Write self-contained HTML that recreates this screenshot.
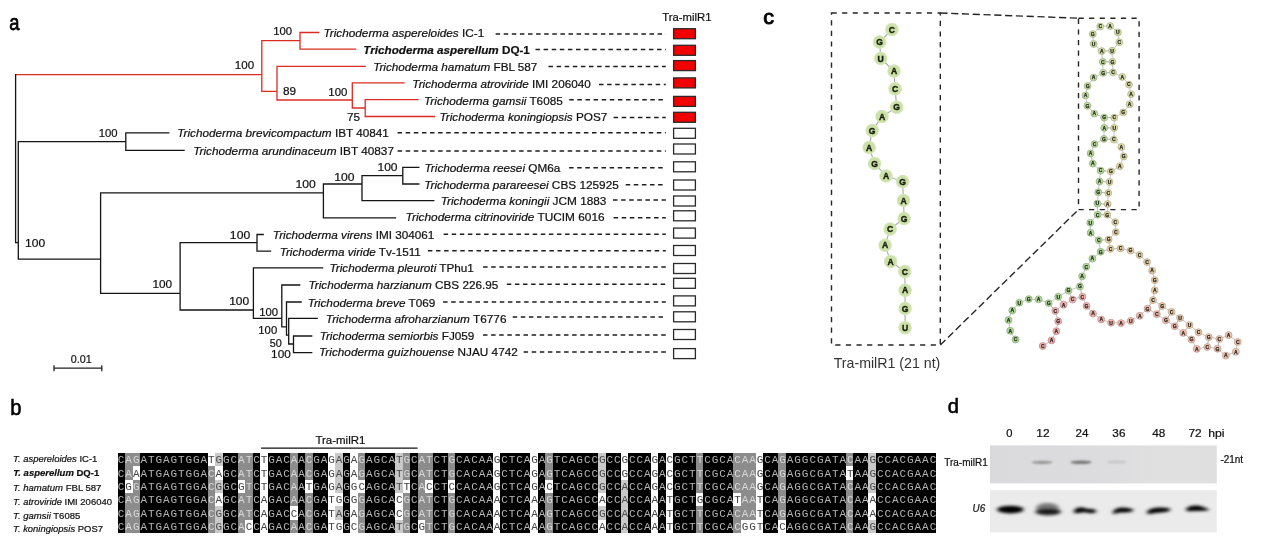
<!DOCTYPE html>
<html><head><meta charset="utf-8"><title>Tra-milR1 figure</title>
<style>html,body{margin:0;padding:0;background:#fff;}body{width:1262px;height:543px;overflow:hidden;}svg{display:block;}</style>
</head><body><svg width="1262" height="543" viewBox="0 0 1262 543" font-family="Liberation Sans, Arial, sans-serif"><text x="9.13" y="29.50" font-size="22" fill="#000" stroke="#000" stroke-width="0.75" textLength="10.20" lengthAdjust="spacingAndGlyphs">a</text><text x="10.28" y="414.60" font-size="22" fill="#000" stroke="#000" stroke-width="0.6" textLength="11.22" lengthAdjust="spacingAndGlyphs">b</text><text x="763.28" y="24.40" font-size="20" fill="#000" stroke="#000" stroke-width="0.9" textLength="10.77" lengthAdjust="spacingAndGlyphs">c</text><text x="947.67" y="412.80" font-size="21" fill="#000" stroke="#000" stroke-width="0.6" textLength="11.17" lengthAdjust="spacingAndGlyphs">d</text><path d="M15.6 74.6L261.8 74.6M261.8 40.6L261.8 91.4M261.8 40.6L300.0 40.6M300.0 32.5L300.0 49.2M300.0 32.5L318.7 32.5M300.0 49.2L355.6 49.2M261.8 91.4L277.0 91.4M277.0 66.3L277.0 100.0M277.0 66.3L365.2 66.3M277.0 100.0L352.3 100.0M352.3 82.9L352.3 108.0M352.3 82.9L404.0 82.9M352.3 108.0L365.2 108.0M365.2 99.6L365.2 116.5M365.2 99.6L417.9 99.6M365.2 116.5L434.6 116.5" stroke="#dc2c22" stroke-width="1.3" fill="none" stroke-linecap="square"/><path d="M15.6 74.6L15.6 242.6M15.6 242.6L18.3 242.6M18.3 141.7L18.3 259.2M18.3 141.7L125.8 141.7M125.8 132.8L125.8 150.3M125.8 132.8L168.8 132.8M125.8 150.3L184.1 150.3M18.3 259.2L100.6 259.2M100.6 192.8L100.6 293.3M100.6 192.8L323.4 192.8M323.4 184.0L323.4 217.8M323.4 217.8L395.5 217.8M323.4 184.0L362.0 184.0M362.0 175.6L362.0 200.6M362.0 200.6L433.8 200.6M362.0 175.6L402.8 175.6M402.8 167.3L402.8 184.0M402.8 167.3L418.8 167.3M402.8 184.0L418.8 184.0M100.6 293.3L180.1 293.3M180.1 242.6L180.1 310.0M180.1 242.6L257.0 242.6M257.0 234.5L257.0 251.2M257.0 234.5L263.2 234.5M257.0 251.2L270.5 251.2M180.1 310.0L253.4 310.0M253.4 267.9L253.4 318.4M253.4 267.9L322.6 267.9M253.4 318.4L281.8 318.4M281.8 285.0L281.8 326.8M281.8 285.0L299.7 285.0M281.8 326.8L286.5 326.8M286.5 302.0L286.5 335.2M286.5 302.0L301.1 302.0M286.5 335.2L288.7 335.2M288.7 318.4L288.7 344.0M288.7 318.4L317.2 318.4M288.7 344.0L293.5 344.0M293.5 336.0L293.5 352.6M293.5 336.0L311.7 336.0M293.5 352.6L311.7 352.6" stroke="#151515" stroke-width="1.3" fill="none" stroke-linecap="square"/><text x="323.45" y="36.80" font-size="11.75" fill="#111" stroke="#111" stroke-width="0.22" textLength="160.86" lengthAdjust="spacingAndGlyphs"><tspan font-style="italic">Trichoderma aspereloides</tspan> IC-1</text><line x1="495.6" y1="34.0" x2="665.8" y2="34.0" stroke="#1e1e1e" stroke-width="1.5" stroke-dasharray="4.5 3.6"/><rect x="673.6" y="28.7" width="21.8" height="10.0" fill="#f20000" stroke="#2a2a2a" stroke-width="1.3"/><text x="363.30" y="53.70" font-size="11.75" font-weight="bold" fill="#111" stroke="#111" stroke-width="0.22" textLength="166.57" lengthAdjust="spacingAndGlyphs"><tspan font-style="italic">Trichoderma asperellum</tspan> DQ-1</text><line x1="535.5" y1="49.5" x2="665.8" y2="49.5" stroke="#1e1e1e" stroke-width="1.5" stroke-dasharray="4.5 3.6"/><rect x="673.6" y="45.3" width="21.8" height="10.0" fill="#f20000" stroke="#2a2a2a" stroke-width="1.3"/><text x="373.15" y="71.30" font-size="11.75" fill="#111" stroke="#111" stroke-width="0.22" textLength="164.23" lengthAdjust="spacingAndGlyphs"><tspan font-style="italic">Trichoderma hamatum</tspan> FBL 587</text><line x1="548.5" y1="66.6" x2="665.8" y2="66.6" stroke="#1e1e1e" stroke-width="1.5" stroke-dasharray="4.5 3.6"/><rect x="673.6" y="60.6" width="21.8" height="10.0" fill="#f20000" stroke="#2a2a2a" stroke-width="1.3"/><text x="412.35" y="88.40" font-size="11.75" fill="#111" stroke="#111" stroke-width="0.22" textLength="178.43" lengthAdjust="spacingAndGlyphs"><tspan font-style="italic">Trichoderma atroviride</tspan> IMI 206040</text><line x1="599.0" y1="84.6" x2="665.8" y2="84.6" stroke="#1e1e1e" stroke-width="1.5" stroke-dasharray="4.5 3.6"/><rect x="673.6" y="77.9" width="21.8" height="10.0" fill="#f20000" stroke="#2a2a2a" stroke-width="1.3"/><text x="424.05" y="104.70" font-size="11.75" fill="#111" stroke="#111" stroke-width="0.22" textLength="138.72" lengthAdjust="spacingAndGlyphs"><tspan font-style="italic">Trichoderma gamsii</tspan> T6085</text><line x1="569.3" y1="99.7" x2="665.8" y2="99.7" stroke="#1e1e1e" stroke-width="1.5" stroke-dasharray="4.5 3.6"/><rect x="673.6" y="96.4" width="21.8" height="10.0" fill="#f20000" stroke="#2a2a2a" stroke-width="1.3"/><text x="439.45" y="120.90" font-size="11.75" fill="#111" stroke="#111" stroke-width="0.22" textLength="167.99" lengthAdjust="spacingAndGlyphs"><tspan font-style="italic">Trichoderma koningiopsis</tspan> POS7</text><line x1="613.6" y1="117.4" x2="665.8" y2="117.4" stroke="#1e1e1e" stroke-width="1.5" stroke-dasharray="4.5 3.6"/><rect x="673.6" y="112.3" width="21.8" height="10.0" fill="#f20000" stroke="#2a2a2a" stroke-width="1.3"/><text x="177.25" y="136.90" font-size="11.75" fill="#111" stroke="#111" stroke-width="0.22" textLength="211.63" lengthAdjust="spacingAndGlyphs"><tspan font-style="italic">Trichoderma brevicompactum</tspan> IBT 40841</text><line x1="397.6" y1="132.7" x2="665.8" y2="132.7" stroke="#1e1e1e" stroke-width="1.5" stroke-dasharray="4.5 3.6"/><rect x="673.6" y="128.3" width="21.8" height="10.0" fill="#ffffff" stroke="#2a2a2a" stroke-width="1.3"/><text x="193.15" y="154.60" font-size="11.75" fill="#111" stroke="#111" stroke-width="0.22" textLength="200.85" lengthAdjust="spacingAndGlyphs"><tspan font-style="italic">Trichoderma arundinaceum</tspan> IBT 40837</text><line x1="397.6" y1="150.9" x2="665.8" y2="150.9" stroke="#1e1e1e" stroke-width="1.5" stroke-dasharray="4.5 3.6"/><rect x="673.6" y="144.0" width="21.8" height="10.0" fill="#ffffff" stroke="#2a2a2a" stroke-width="1.3"/><text x="424.55" y="172.10" font-size="11.75" fill="#111" stroke="#111" stroke-width="0.22" textLength="135.78" lengthAdjust="spacingAndGlyphs"><tspan font-style="italic">Trichoderma reesei</tspan> QM6a</text><line x1="569.1" y1="167.8" x2="665.8" y2="167.8" stroke="#1e1e1e" stroke-width="1.5" stroke-dasharray="4.5 3.6"/><rect x="673.6" y="161.8" width="21.8" height="10.0" fill="#ffffff" stroke="#2a2a2a" stroke-width="1.3"/><text x="424.15" y="189.00" font-size="11.75" fill="#111" stroke="#111" stroke-width="0.22" textLength="194.69" lengthAdjust="spacingAndGlyphs"><tspan font-style="italic">Trichoderma parareesei</tspan> CBS 125925</text><line x1="625.7" y1="184.8" x2="665.8" y2="184.8" stroke="#1e1e1e" stroke-width="1.5" stroke-dasharray="4.5 3.6"/><rect x="673.6" y="180.0" width="21.8" height="10.0" fill="#ffffff" stroke="#2a2a2a" stroke-width="1.3"/><text x="440.65" y="204.60" font-size="11.75" fill="#111" stroke="#111" stroke-width="0.22" textLength="165.79" lengthAdjust="spacingAndGlyphs"><tspan font-style="italic">Trichoderma koningii</tspan> JCM 1883</text><line x1="613.0" y1="200.0" x2="665.8" y2="200.0" stroke="#1e1e1e" stroke-width="1.5" stroke-dasharray="4.5 3.6"/><rect x="673.6" y="196.0" width="21.8" height="10.0" fill="#ffffff" stroke="#2a2a2a" stroke-width="1.3"/><text x="405.64" y="221.30" font-size="11.75" fill="#111" stroke="#111" stroke-width="0.22" textLength="198.95" lengthAdjust="spacingAndGlyphs"><tspan font-style="italic">Trichoderma citrinoviride</tspan> TUCIM 6016</text><line x1="613.6" y1="217.8" x2="665.8" y2="217.8" stroke="#1e1e1e" stroke-width="1.5" stroke-dasharray="4.5 3.6"/><rect x="673.6" y="210.8" width="21.8" height="10.0" fill="#ffffff" stroke="#2a2a2a" stroke-width="1.3"/><text x="272.85" y="238.80" font-size="11.75" fill="#111" stroke="#111" stroke-width="0.22" textLength="161.50" lengthAdjust="spacingAndGlyphs"><tspan font-style="italic">Trichoderma virens</tspan> IMI 304061</text><line x1="443.6" y1="234.3" x2="665.8" y2="234.3" stroke="#1e1e1e" stroke-width="1.5" stroke-dasharray="4.5 3.6"/><rect x="673.6" y="228.1" width="21.8" height="10.0" fill="#ffffff" stroke="#2a2a2a" stroke-width="1.3"/><text x="279.65" y="255.50" font-size="11.75" fill="#111" stroke="#111" stroke-width="0.22" textLength="141.26" lengthAdjust="spacingAndGlyphs"><tspan font-style="italic">Trichoderma viride</tspan> Tv-1511</text><line x1="427.9" y1="250.8" x2="665.8" y2="250.8" stroke="#1e1e1e" stroke-width="1.5" stroke-dasharray="4.5 3.6"/><rect x="673.6" y="245.5" width="21.8" height="10.0" fill="#ffffff" stroke="#2a2a2a" stroke-width="1.3"/><text x="329.45" y="272.40" font-size="11.75" fill="#111" stroke="#111" stroke-width="0.22" textLength="144.46" lengthAdjust="spacingAndGlyphs"><tspan font-style="italic">Trichoderma pleuroti</tspan> TPhu1</text><line x1="483.1" y1="266.9" x2="665.8" y2="266.9" stroke="#1e1e1e" stroke-width="1.5" stroke-dasharray="4.5 3.6"/><rect x="673.6" y="263.5" width="21.8" height="10.0" fill="#ffffff" stroke="#2a2a2a" stroke-width="1.3"/><text x="308.45" y="288.90" font-size="11.75" fill="#111" stroke="#111" stroke-width="0.22" textLength="189.94" lengthAdjust="spacingAndGlyphs"><tspan font-style="italic">Trichoderma harzianum</tspan> CBS 226.95</text><line x1="506.8" y1="284.3" x2="665.8" y2="284.3" stroke="#1e1e1e" stroke-width="1.5" stroke-dasharray="4.5 3.6"/><rect x="673.6" y="278.3" width="21.8" height="10.0" fill="#ffffff" stroke="#2a2a2a" stroke-width="1.3"/><text x="307.65" y="306.50" font-size="11.75" fill="#111" stroke="#111" stroke-width="0.22" textLength="127.75" lengthAdjust="spacingAndGlyphs"><tspan font-style="italic">Trichoderma breve</tspan> T069</text><line x1="443.1" y1="302.0" x2="665.8" y2="302.0" stroke="#1e1e1e" stroke-width="1.5" stroke-dasharray="4.5 3.6"/><rect x="673.6" y="295.9" width="21.8" height="10.0" fill="#ffffff" stroke="#2a2a2a" stroke-width="1.3"/><text x="325.85" y="322.50" font-size="11.75" fill="#111" stroke="#111" stroke-width="0.22" textLength="180.63" lengthAdjust="spacingAndGlyphs"><tspan font-style="italic">Trichoderma afroharzianum</tspan> T6776</text><line x1="512.7" y1="317.1" x2="665.8" y2="317.1" stroke="#1e1e1e" stroke-width="1.5" stroke-dasharray="4.5 3.6"/><rect x="673.6" y="311.8" width="21.8" height="10.0" fill="#ffffff" stroke="#2a2a2a" stroke-width="1.3"/><text x="319.65" y="339.90" font-size="11.75" fill="#111" stroke="#111" stroke-width="0.22" textLength="154.75" lengthAdjust="spacingAndGlyphs"><tspan font-style="italic">Trichoderma semiorbis</tspan> FJ059</text><line x1="483.0" y1="335.1" x2="665.8" y2="335.1" stroke="#1e1e1e" stroke-width="1.5" stroke-dasharray="4.5 3.6"/><rect x="673.6" y="329.5" width="21.8" height="10.0" fill="#ffffff" stroke="#2a2a2a" stroke-width="1.3"/><text x="319.05" y="356.30" font-size="11.75" fill="#111" stroke="#111" stroke-width="0.22" textLength="198.75" lengthAdjust="spacingAndGlyphs"><tspan font-style="italic">Trichoderma guizhouense</tspan> NJAU 4742</text><line x1="523.6" y1="351.9" x2="665.8" y2="351.9" stroke="#1e1e1e" stroke-width="1.5" stroke-dasharray="4.5 3.6"/><rect x="673.6" y="348.6" width="21.8" height="10.0" fill="#ffffff" stroke="#2a2a2a" stroke-width="1.3"/><text x="273.23" y="34.90" font-size="11.8" fill="#111" stroke="#111" stroke-width="0.22" textLength="18.84" lengthAdjust="spacingAndGlyphs">100</text><text x="234.81" y="68.70" font-size="11.8" fill="#111" stroke="#111" stroke-width="0.22" textLength="19.37" lengthAdjust="spacingAndGlyphs">100</text><text x="282.95" y="94.70" font-size="11.8" fill="#111" stroke="#111" stroke-width="0.22" textLength="13.07" lengthAdjust="spacingAndGlyphs">89</text><text x="328.32" y="95.50" font-size="11.8" fill="#111" stroke="#111" stroke-width="0.22" textLength="19.05" lengthAdjust="spacingAndGlyphs">100</text><text x="346.95" y="121.10" font-size="11.8" fill="#111" stroke="#111" stroke-width="0.22" textLength="13.07" lengthAdjust="spacingAndGlyphs">75</text><text x="98.73" y="136.70" font-size="11.8" fill="#111" stroke="#111" stroke-width="0.22" textLength="18.84" lengthAdjust="spacingAndGlyphs">100</text><text x="295.48" y="188.00" font-size="11.8" fill="#111" stroke="#111" stroke-width="0.22" textLength="20.33" lengthAdjust="spacingAndGlyphs">100</text><text x="334.18" y="181.00" font-size="11.8" fill="#111" stroke="#111" stroke-width="0.22" textLength="20.22" lengthAdjust="spacingAndGlyphs">100</text><text x="377.48" y="170.60" font-size="11.8" fill="#111" stroke="#111" stroke-width="0.22" textLength="20.11" lengthAdjust="spacingAndGlyphs">100</text><text x="25.08" y="246.80" font-size="11.8" fill="#111" stroke="#111" stroke-width="0.22" textLength="20.11" lengthAdjust="spacingAndGlyphs">100</text><text x="152.50" y="288.00" font-size="11.8" fill="#111" stroke="#111" stroke-width="0.22" textLength="19.69" lengthAdjust="spacingAndGlyphs">100</text><text x="229.88" y="238.80" font-size="11.8" fill="#111" stroke="#111" stroke-width="0.22" textLength="20.33" lengthAdjust="spacingAndGlyphs">100</text><text x="229.19" y="305.20" font-size="11.8" fill="#111" stroke="#111" stroke-width="0.22" textLength="20.01" lengthAdjust="spacingAndGlyphs">100</text><text x="259.13" y="316.10" font-size="11.8" fill="#111" stroke="#111" stroke-width="0.22" textLength="18.84" lengthAdjust="spacingAndGlyphs">100</text><text x="258.33" y="334.30" font-size="11.8" fill="#111" stroke="#111" stroke-width="0.22" textLength="18.84" lengthAdjust="spacingAndGlyphs">100</text><text x="269.82" y="347.10" font-size="11.8" fill="#111" stroke="#111" stroke-width="0.22" textLength="12.08" lengthAdjust="spacingAndGlyphs">50</text><text x="271.10" y="358.40" font-size="11.8" fill="#111" stroke="#111" stroke-width="0.22" textLength="19.69" lengthAdjust="spacingAndGlyphs">100</text><text x="662.25" y="20.90" font-size="11.4" fill="#111" stroke="#111" stroke-width="0.22" textLength="49.23" lengthAdjust="spacingAndGlyphs">Tra-milR1</text><path d="M53.4 368.1H102.4M54.0 365.2V371.2M101.8 365.2V371.2" stroke="#222" stroke-width="1.3" fill="none"/><text x="70.72" y="363.20" font-size="11.6" fill="#111" stroke="#111" stroke-width="0.22" textLength="20.94" lengthAdjust="spacingAndGlyphs">0.01</text><g shape-rendering="crispEdges"><rect x="117.50" y="453.00" width="818.40" height="80.00" fill="#000"/><rect x="125.01" y="453.00" width="7.51" height="26.67" fill="#8c8c8c"/><rect x="125.01" y="479.67" width="7.51" height="13.33" fill="#ffffff"/><rect x="125.01" y="493.00" width="7.51" height="40.00" fill="#8c8c8c"/><rect x="132.52" y="453.00" width="7.51" height="13.33" fill="#8c8c8c"/><rect x="132.52" y="466.33" width="7.51" height="13.33" fill="#ffffff"/><rect x="132.52" y="479.67" width="7.51" height="53.33" fill="#8c8c8c"/><rect x="207.60" y="453.00" width="7.51" height="13.33" fill="#ffffff"/><rect x="207.60" y="466.33" width="7.51" height="66.67" fill="#8c8c8c"/><rect x="215.11" y="453.00" width="7.51" height="13.33" fill="#c9c9c9"/><rect x="215.11" y="466.33" width="7.51" height="13.33" fill="#ffffff"/><rect x="215.11" y="479.67" width="7.51" height="13.33" fill="#c9c9c9"/><rect x="215.11" y="493.00" width="7.51" height="13.33" fill="#ffffff"/><rect x="215.11" y="506.33" width="7.51" height="26.67" fill="#c9c9c9"/><rect x="237.63" y="453.00" width="7.51" height="26.67" fill="#8c8c8c"/><rect x="237.63" y="479.67" width="7.51" height="13.33" fill="#ffffff"/><rect x="237.63" y="493.00" width="7.51" height="40.00" fill="#8c8c8c"/><rect x="245.14" y="453.00" width="7.51" height="66.67" fill="#8c8c8c"/><rect x="245.14" y="519.67" width="7.51" height="13.33" fill="#ffffff"/><rect x="260.16" y="453.00" width="7.51" height="80.00" fill="#ffffff"/><rect x="290.19" y="453.00" width="7.51" height="53.33" fill="#8c8c8c"/><rect x="290.19" y="506.33" width="7.51" height="13.33" fill="#ffffff"/><rect x="290.19" y="519.67" width="7.51" height="13.33" fill="#8c8c8c"/><rect x="305.21" y="453.00" width="7.51" height="26.67" fill="#8c8c8c"/><rect x="305.21" y="479.67" width="7.51" height="13.33" fill="#ffffff"/><rect x="305.21" y="493.00" width="7.51" height="40.00" fill="#8c8c8c"/><rect x="327.73" y="453.00" width="7.51" height="80.00" fill="#ffffff"/><rect x="335.24" y="453.00" width="7.51" height="40.00" fill="#c9c9c9"/><rect x="335.24" y="493.00" width="7.51" height="13.33" fill="#ffffff"/><rect x="335.24" y="506.33" width="7.51" height="13.33" fill="#c9c9c9"/><rect x="335.24" y="519.67" width="7.51" height="13.33" fill="#ffffff"/><rect x="350.26" y="453.00" width="7.51" height="80.00" fill="#ffffff"/><rect x="357.76" y="453.00" width="7.51" height="26.67" fill="#8c8c8c"/><rect x="357.76" y="479.67" width="7.51" height="13.33" fill="#ffffff"/><rect x="357.76" y="493.00" width="7.51" height="40.00" fill="#8c8c8c"/><rect x="395.31" y="453.00" width="7.51" height="40.00" fill="#c9c9c9"/><rect x="395.31" y="493.00" width="7.51" height="26.67" fill="#ffffff"/><rect x="395.31" y="519.67" width="7.51" height="13.33" fill="#c9c9c9"/><rect x="402.81" y="453.00" width="7.51" height="26.67" fill="#8c8c8c"/><rect x="402.81" y="479.67" width="7.51" height="13.33" fill="#ffffff"/><rect x="402.81" y="493.00" width="7.51" height="40.00" fill="#8c8c8c"/><rect x="417.83" y="453.00" width="7.51" height="66.67" fill="#8c8c8c"/><rect x="417.83" y="519.67" width="7.51" height="13.33" fill="#ffffff"/><rect x="425.34" y="453.00" width="7.51" height="26.67" fill="#8c8c8c"/><rect x="425.34" y="479.67" width="7.51" height="13.33" fill="#ffffff"/><rect x="425.34" y="493.00" width="7.51" height="40.00" fill="#8c8c8c"/><rect x="447.86" y="453.00" width="7.51" height="26.67" fill="#8c8c8c"/><rect x="447.86" y="479.67" width="7.51" height="13.33" fill="#ffffff"/><rect x="447.86" y="493.00" width="7.51" height="40.00" fill="#8c8c8c"/><rect x="492.91" y="453.00" width="7.51" height="80.00" fill="#ffffff"/><rect x="530.45" y="453.00" width="7.51" height="80.00" fill="#ffffff"/><rect x="545.47" y="453.00" width="7.51" height="26.67" fill="#8c8c8c"/><rect x="545.47" y="479.67" width="7.51" height="13.33" fill="#ffffff"/><rect x="545.47" y="493.00" width="7.51" height="40.00" fill="#8c8c8c"/><rect x="598.03" y="453.00" width="7.51" height="40.00" fill="#c9c9c9"/><rect x="598.03" y="493.00" width="7.51" height="13.33" fill="#ffffff"/><rect x="598.03" y="506.33" width="7.51" height="13.33" fill="#c9c9c9"/><rect x="598.03" y="519.67" width="7.51" height="13.33" fill="#ffffff"/><rect x="620.55" y="453.00" width="7.51" height="26.67" fill="#ffffff"/><rect x="620.55" y="479.67" width="7.51" height="53.33" fill="#c9c9c9"/><rect x="650.59" y="453.00" width="7.51" height="80.00" fill="#ffffff"/><rect x="665.60" y="453.00" width="7.51" height="80.00" fill="#ffffff"/><rect x="695.64" y="453.00" width="7.51" height="40.00" fill="#8c8c8c"/><rect x="695.64" y="493.00" width="7.51" height="13.33" fill="#ffffff"/><rect x="695.64" y="506.33" width="7.51" height="26.67" fill="#8c8c8c"/><rect x="733.18" y="453.00" width="7.51" height="40.00" fill="#8c8c8c"/><rect x="733.18" y="493.00" width="7.51" height="13.33" fill="#ffffff"/><rect x="733.18" y="506.33" width="7.51" height="26.67" fill="#8c8c8c"/><rect x="740.69" y="453.00" width="7.51" height="66.67" fill="#8c8c8c"/><rect x="740.69" y="519.67" width="7.51" height="13.33" fill="#ffffff"/><rect x="748.19" y="453.00" width="7.51" height="66.67" fill="#8c8c8c"/><rect x="748.19" y="519.67" width="7.51" height="13.33" fill="#ffffff"/><rect x="755.70" y="453.00" width="7.51" height="80.00" fill="#ffffff"/><rect x="778.23" y="453.00" width="7.51" height="66.67" fill="#8c8c8c"/><rect x="778.23" y="519.67" width="7.51" height="13.33" fill="#ffffff"/><rect x="845.80" y="453.00" width="7.51" height="13.33" fill="#8c8c8c"/><rect x="845.80" y="466.33" width="7.51" height="13.33" fill="#ffffff"/><rect x="845.80" y="479.67" width="7.51" height="53.33" fill="#8c8c8c"/><rect x="868.33" y="453.00" width="7.51" height="40.00" fill="#c9c9c9"/><rect x="868.33" y="493.00" width="7.51" height="26.67" fill="#ffffff"/><rect x="868.33" y="519.67" width="7.51" height="13.33" fill="#c9c9c9"/></g><text x="117.85" y="463.30" font-family="Liberation Mono, monospace" font-size="11.0" textLength="818.40" lengthAdjust="spacing"><tspan fill="#b4b4b4">C</tspan><tspan fill="#d8d8d8">AG</tspan><tspan fill="#b4b4b4">ATGAGTGGA</tspan><tspan fill="#444444">T</tspan><tspan fill="#4a4a4a">G</tspan><tspan fill="#b4b4b4">GC</tspan><tspan fill="#d8d8d8">AT</tspan><tspan fill="#b4b4b4">C</tspan><tspan fill="#444444">T</tspan><tspan fill="#b4b4b4">GAC</tspan><tspan fill="#d8d8d8">A</tspan><tspan fill="#b4b4b4">A</tspan><tspan fill="#d8d8d8">C</tspan><tspan fill="#b4b4b4">GA</tspan><tspan fill="#444444">G</tspan><tspan fill="#4a4a4a">A</tspan><tspan fill="#b4b4b4">G</tspan><tspan fill="#444444">A</tspan><tspan fill="#d8d8d8">G</tspan><tspan fill="#b4b4b4">AGCA</tspan><tspan fill="#4a4a4a">T</tspan><tspan fill="#d8d8d8">G</tspan><tspan fill="#b4b4b4">C</tspan><tspan fill="#d8d8d8">AT</tspan><tspan fill="#b4b4b4">CT</tspan><tspan fill="#d8d8d8">G</tspan><tspan fill="#b4b4b4">CACAA</tspan><tspan fill="#444444">G</tspan><tspan fill="#b4b4b4">CTCA</tspan><tspan fill="#444444">G</tspan><tspan fill="#b4b4b4">A</tspan><tspan fill="#d8d8d8">G</tspan><tspan fill="#b4b4b4">TCAGCC</tspan><tspan fill="#4a4a4a">G</tspan><tspan fill="#b4b4b4">CC</tspan><tspan fill="#444444">G</tspan><tspan fill="#b4b4b4">CCA</tspan><tspan fill="#444444">G</tspan><tspan fill="#b4b4b4">A</tspan><tspan fill="#444444">C</tspan><tspan fill="#b4b4b4">GCT</tspan><tspan fill="#d8d8d8">T</tspan><tspan fill="#b4b4b4">CGCA</tspan><tspan fill="#d8d8d8">CAA</tspan><tspan fill="#444444">G</tspan><tspan fill="#b4b4b4">CA</tspan><tspan fill="#d8d8d8">G</tspan><tspan fill="#b4b4b4">AGGCGATA</tspan><tspan fill="#d8d8d8">C</tspan><tspan fill="#b4b4b4">AA</tspan><tspan fill="#4a4a4a">G</tspan><tspan fill="#b4b4b4">CCACGAAC</tspan></text><text x="117.85" y="476.63" font-family="Liberation Mono, monospace" font-size="11.0" textLength="818.40" lengthAdjust="spacing"><tspan fill="#b4b4b4">C</tspan><tspan fill="#d8d8d8">A</tspan><tspan fill="#444444">A</tspan><tspan fill="#b4b4b4">ATGAGTGGA</tspan><tspan fill="#d8d8d8">C</tspan><tspan fill="#444444">A</tspan><tspan fill="#b4b4b4">GC</tspan><tspan fill="#d8d8d8">AT</tspan><tspan fill="#b4b4b4">C</tspan><tspan fill="#444444">T</tspan><tspan fill="#b4b4b4">GAC</tspan><tspan fill="#d8d8d8">A</tspan><tspan fill="#b4b4b4">A</tspan><tspan fill="#d8d8d8">C</tspan><tspan fill="#b4b4b4">GA</tspan><tspan fill="#444444">G</tspan><tspan fill="#4a4a4a">A</tspan><tspan fill="#b4b4b4">G</tspan><tspan fill="#444444">A</tspan><tspan fill="#d8d8d8">G</tspan><tspan fill="#b4b4b4">AGCA</tspan><tspan fill="#4a4a4a">T</tspan><tspan fill="#d8d8d8">G</tspan><tspan fill="#b4b4b4">C</tspan><tspan fill="#d8d8d8">AT</tspan><tspan fill="#b4b4b4">CT</tspan><tspan fill="#d8d8d8">G</tspan><tspan fill="#b4b4b4">CACAA</tspan><tspan fill="#444444">G</tspan><tspan fill="#b4b4b4">CTCA</tspan><tspan fill="#444444">G</tspan><tspan fill="#b4b4b4">A</tspan><tspan fill="#d8d8d8">G</tspan><tspan fill="#b4b4b4">TCAGCC</tspan><tspan fill="#4a4a4a">G</tspan><tspan fill="#b4b4b4">CC</tspan><tspan fill="#444444">G</tspan><tspan fill="#b4b4b4">CCA</tspan><tspan fill="#444444">G</tspan><tspan fill="#b4b4b4">A</tspan><tspan fill="#444444">C</tspan><tspan fill="#b4b4b4">GCT</tspan><tspan fill="#d8d8d8">T</tspan><tspan fill="#b4b4b4">CGCA</tspan><tspan fill="#d8d8d8">CAA</tspan><tspan fill="#444444">G</tspan><tspan fill="#b4b4b4">CA</tspan><tspan fill="#d8d8d8">G</tspan><tspan fill="#b4b4b4">AGGCGATA</tspan><tspan fill="#444444">T</tspan><tspan fill="#b4b4b4">AA</tspan><tspan fill="#4a4a4a">G</tspan><tspan fill="#b4b4b4">CCACGAAC</tspan></text><text x="117.85" y="489.97" font-family="Liberation Mono, monospace" font-size="11.0" textLength="818.40" lengthAdjust="spacing"><tspan fill="#b4b4b4">C</tspan><tspan fill="#444444">G</tspan><tspan fill="#d8d8d8">G</tspan><tspan fill="#b4b4b4">ATGAGTGGA</tspan><tspan fill="#d8d8d8">C</tspan><tspan fill="#4a4a4a">G</tspan><tspan fill="#b4b4b4">GC</tspan><tspan fill="#444444">G</tspan><tspan fill="#d8d8d8">T</tspan><tspan fill="#b4b4b4">C</tspan><tspan fill="#444444">T</tspan><tspan fill="#b4b4b4">GAC</tspan><tspan fill="#d8d8d8">A</tspan><tspan fill="#b4b4b4">A</tspan><tspan fill="#444444">T</tspan><tspan fill="#b4b4b4">GA</tspan><tspan fill="#444444">G</tspan><tspan fill="#4a4a4a">A</tspan><tspan fill="#b4b4b4">G</tspan><tspan fill="#444444">GC</tspan><tspan fill="#b4b4b4">AGCA</tspan><tspan fill="#4a4a4a">T</tspan><tspan fill="#444444">T</tspan><tspan fill="#b4b4b4">C</tspan><tspan fill="#d8d8d8">A</tspan><tspan fill="#444444">C</tspan><tspan fill="#b4b4b4">CT</tspan><tspan fill="#444444">C</tspan><tspan fill="#b4b4b4">CACAA</tspan><tspan fill="#444444">G</tspan><tspan fill="#b4b4b4">CTCA</tspan><tspan fill="#444444">G</tspan><tspan fill="#b4b4b4">A</tspan><tspan fill="#444444">C</tspan><tspan fill="#b4b4b4">TCAGCC</tspan><tspan fill="#4a4a4a">G</tspan><tspan fill="#b4b4b4">CC</tspan><tspan fill="#4a4a4a">A</tspan><tspan fill="#b4b4b4">CCA</tspan><tspan fill="#444444">G</tspan><tspan fill="#b4b4b4">A</tspan><tspan fill="#444444">C</tspan><tspan fill="#b4b4b4">GCT</tspan><tspan fill="#d8d8d8">T</tspan><tspan fill="#b4b4b4">CGCA</tspan><tspan fill="#d8d8d8">CAA</tspan><tspan fill="#444444">G</tspan><tspan fill="#b4b4b4">CA</tspan><tspan fill="#d8d8d8">G</tspan><tspan fill="#b4b4b4">AGGCGATA</tspan><tspan fill="#d8d8d8">C</tspan><tspan fill="#b4b4b4">AA</tspan><tspan fill="#4a4a4a">G</tspan><tspan fill="#b4b4b4">CCACGAAC</tspan></text><text x="117.85" y="503.30" font-family="Liberation Mono, monospace" font-size="11.0" textLength="818.40" lengthAdjust="spacing"><tspan fill="#b4b4b4">C</tspan><tspan fill="#d8d8d8">AG</tspan><tspan fill="#b4b4b4">ATGAGTGGA</tspan><tspan fill="#d8d8d8">C</tspan><tspan fill="#444444">A</tspan><tspan fill="#b4b4b4">GC</tspan><tspan fill="#d8d8d8">AT</tspan><tspan fill="#b4b4b4">C</tspan><tspan fill="#444444">A</tspan><tspan fill="#b4b4b4">GAC</tspan><tspan fill="#d8d8d8">A</tspan><tspan fill="#b4b4b4">A</tspan><tspan fill="#d8d8d8">C</tspan><tspan fill="#b4b4b4">GA</tspan><tspan fill="#444444">TG</tspan><tspan fill="#b4b4b4">G</tspan><tspan fill="#444444">G</tspan><tspan fill="#d8d8d8">G</tspan><tspan fill="#b4b4b4">AGCA</tspan><tspan fill="#444444">C</tspan><tspan fill="#d8d8d8">G</tspan><tspan fill="#b4b4b4">C</tspan><tspan fill="#d8d8d8">AT</tspan><tspan fill="#b4b4b4">CT</tspan><tspan fill="#d8d8d8">G</tspan><tspan fill="#b4b4b4">CACAA</tspan><tspan fill="#444444">A</tspan><tspan fill="#b4b4b4">CTCA</tspan><tspan fill="#444444">A</tspan><tspan fill="#b4b4b4">A</tspan><tspan fill="#d8d8d8">G</tspan><tspan fill="#b4b4b4">TCAGCC</tspan><tspan fill="#444444">A</tspan><tspan fill="#b4b4b4">CC</tspan><tspan fill="#4a4a4a">A</tspan><tspan fill="#b4b4b4">CCA</tspan><tspan fill="#444444">A</tspan><tspan fill="#b4b4b4">A</tspan><tspan fill="#444444">T</tspan><tspan fill="#b4b4b4">GCT</tspan><tspan fill="#444444">G</tspan><tspan fill="#b4b4b4">CGCA</tspan><tspan fill="#444444">T</tspan><tspan fill="#d8d8d8">AA</tspan><tspan fill="#444444">T</tspan><tspan fill="#b4b4b4">CA</tspan><tspan fill="#d8d8d8">G</tspan><tspan fill="#b4b4b4">AGGCGATA</tspan><tspan fill="#d8d8d8">C</tspan><tspan fill="#b4b4b4">AA</tspan><tspan fill="#444444">A</tspan><tspan fill="#b4b4b4">CCACGAAC</tspan></text><text x="117.85" y="516.63" font-family="Liberation Mono, monospace" font-size="11.0" textLength="818.40" lengthAdjust="spacing"><tspan fill="#b4b4b4">C</tspan><tspan fill="#d8d8d8">AG</tspan><tspan fill="#b4b4b4">ATGAGTGGA</tspan><tspan fill="#d8d8d8">C</tspan><tspan fill="#4a4a4a">G</tspan><tspan fill="#b4b4b4">GC</tspan><tspan fill="#d8d8d8">AT</tspan><tspan fill="#b4b4b4">C</tspan><tspan fill="#444444">A</tspan><tspan fill="#b4b4b4">GAC</tspan><tspan fill="#444444">C</tspan><tspan fill="#b4b4b4">A</tspan><tspan fill="#d8d8d8">C</tspan><tspan fill="#b4b4b4">GA</tspan><tspan fill="#444444">T</tspan><tspan fill="#4a4a4a">A</tspan><tspan fill="#b4b4b4">G</tspan><tspan fill="#444444">A</tspan><tspan fill="#d8d8d8">G</tspan><tspan fill="#b4b4b4">AGCA</tspan><tspan fill="#444444">C</tspan><tspan fill="#d8d8d8">G</tspan><tspan fill="#b4b4b4">C</tspan><tspan fill="#d8d8d8">AT</tspan><tspan fill="#b4b4b4">CT</tspan><tspan fill="#d8d8d8">G</tspan><tspan fill="#b4b4b4">CACAA</tspan><tspan fill="#444444">A</tspan><tspan fill="#b4b4b4">CTCA</tspan><tspan fill="#444444">A</tspan><tspan fill="#b4b4b4">A</tspan><tspan fill="#d8d8d8">G</tspan><tspan fill="#b4b4b4">TCAGCC</tspan><tspan fill="#4a4a4a">G</tspan><tspan fill="#b4b4b4">CC</tspan><tspan fill="#4a4a4a">A</tspan><tspan fill="#b4b4b4">CCA</tspan><tspan fill="#444444">A</tspan><tspan fill="#b4b4b4">A</tspan><tspan fill="#444444">T</tspan><tspan fill="#b4b4b4">GCT</tspan><tspan fill="#d8d8d8">T</tspan><tspan fill="#b4b4b4">CGCA</tspan><tspan fill="#d8d8d8">CAA</tspan><tspan fill="#444444">T</tspan><tspan fill="#b4b4b4">CA</tspan><tspan fill="#d8d8d8">G</tspan><tspan fill="#b4b4b4">AGGCGATA</tspan><tspan fill="#d8d8d8">C</tspan><tspan fill="#b4b4b4">AA</tspan><tspan fill="#444444">A</tspan><tspan fill="#b4b4b4">CCACGAAC</tspan></text><text x="117.85" y="529.97" font-family="Liberation Mono, monospace" font-size="11.0" textLength="818.40" lengthAdjust="spacing"><tspan fill="#b4b4b4">C</tspan><tspan fill="#d8d8d8">AG</tspan><tspan fill="#b4b4b4">ATGAGTGGA</tspan><tspan fill="#d8d8d8">C</tspan><tspan fill="#4a4a4a">G</tspan><tspan fill="#b4b4b4">GC</tspan><tspan fill="#d8d8d8">A</tspan><tspan fill="#444444">C</tspan><tspan fill="#b4b4b4">C</tspan><tspan fill="#444444">A</tspan><tspan fill="#b4b4b4">GAC</tspan><tspan fill="#d8d8d8">A</tspan><tspan fill="#b4b4b4">A</tspan><tspan fill="#d8d8d8">C</tspan><tspan fill="#b4b4b4">GA</tspan><tspan fill="#444444">TG</tspan><tspan fill="#b4b4b4">G</tspan><tspan fill="#444444">C</tspan><tspan fill="#d8d8d8">G</tspan><tspan fill="#b4b4b4">AGCA</tspan><tspan fill="#4a4a4a">T</tspan><tspan fill="#d8d8d8">G</tspan><tspan fill="#b4b4b4">C</tspan><tspan fill="#444444">G</tspan><tspan fill="#d8d8d8">T</tspan><tspan fill="#b4b4b4">CT</tspan><tspan fill="#d8d8d8">G</tspan><tspan fill="#b4b4b4">CACAA</tspan><tspan fill="#444444">A</tspan><tspan fill="#b4b4b4">CTCA</tspan><tspan fill="#444444">A</tspan><tspan fill="#b4b4b4">A</tspan><tspan fill="#d8d8d8">G</tspan><tspan fill="#b4b4b4">TCAGCC</tspan><tspan fill="#444444">A</tspan><tspan fill="#b4b4b4">CC</tspan><tspan fill="#4a4a4a">A</tspan><tspan fill="#b4b4b4">CCA</tspan><tspan fill="#444444">A</tspan><tspan fill="#b4b4b4">A</tspan><tspan fill="#444444">T</tspan><tspan fill="#b4b4b4">GCT</tspan><tspan fill="#d8d8d8">T</tspan><tspan fill="#b4b4b4">CGCA</tspan><tspan fill="#d8d8d8">C</tspan><tspan fill="#444444">GGT</tspan><tspan fill="#b4b4b4">CA</tspan><tspan fill="#444444">C</tspan><tspan fill="#b4b4b4">AGGCGATA</tspan><tspan fill="#d8d8d8">C</tspan><tspan fill="#b4b4b4">AA</tspan><tspan fill="#4a4a4a">G</tspan><tspan fill="#b4b4b4">CCACGAAC</tspan></text><text x="12.99" y="462.40" font-size="9.4" fill="#111" stroke="#111" stroke-width="0.22" textLength="84.37" lengthAdjust="spacingAndGlyphs"><tspan font-style="italic">T. aspereloides</tspan> IC-1</text><text x="13.24" y="475.90" font-size="9.4" font-weight="bold" fill="#111" stroke="#111" stroke-width="0.22" textLength="86.02" lengthAdjust="spacingAndGlyphs"><tspan font-style="italic">T. asperellum</tspan> DQ-1</text><text x="12.99" y="491.00" font-size="9.4" fill="#111" stroke="#111" stroke-width="0.22" textLength="88.43" lengthAdjust="spacingAndGlyphs"><tspan font-style="italic">T. hamatum</tspan> FBL 587</text><text x="12.99" y="505.20" font-size="9.4" fill="#111" stroke="#111" stroke-width="0.22" textLength="98.91" lengthAdjust="spacingAndGlyphs"><tspan font-style="italic">T. atroviride</tspan> IMI 206040</text><text x="12.99" y="518.80" font-size="9.4" fill="#111" stroke="#111" stroke-width="0.22" textLength="67.37" lengthAdjust="spacingAndGlyphs"><tspan font-style="italic">T. gamsii</tspan> T6085</text><text x="12.99" y="532.00" font-size="9.4" fill="#111" stroke="#111" stroke-width="0.22" textLength="89.95" lengthAdjust="spacingAndGlyphs"><tspan font-style="italic">T. koningiopsis</tspan> POS7</text><path d="M261.1 448.1H417.6" stroke="#111" stroke-width="1.1"/><text x="315.45" y="444.00" font-size="11.8" fill="#111" stroke="#111" stroke-width="0.22" textLength="49.93" lengthAdjust="spacingAndGlyphs">Tra-milR1</text><path d="M1015.5 339.5 L1010.2 330.8 L1008.5 320.1 L1012.3 310.5 L1019.3 302.8 L1028.7 299.1 L1038.6 299.3 L1048.7 303.1 L1058.2 296.8 L1068.5 290.6 L1079.9 286.5 L1082.1 276.4 L1086.2 266.8 L1092.4 258.6 L1100.6 251.8 L1098.7 240.2 L1090.6 232.8 L1090.2 222.8 L1097.6 214.7 L1097.4 203.6 L1098.3 192.3 L1099.5 181.5 L1100.6 170.6 L1092.8 163.6 L1090.6 153.5 L1094.5 144.1 L1103.9 138.9 L1104.2 127.9 L1104.2 117.6 L1094.3 113.6 L1087.4 105.8 L1085.5 95.5 L1087.6 86.0 L1093.6 77.6 L1103.1 72.9 L1102.7 61.8 L1101.7 51.1 L1093.6 44.0 L1092.8 34.1 L1100.2 26.5 L1110.1 26.0 L1117.9 32.4 L1119.3 42.2 L1112.0 50.8 L1112.4 61.8 L1113.0 72.4 L1122.3 76.9 L1128.9 84.6 L1131.1 94.3 L1129.6 104.3 L1123.3 112.4 L1114.2 117.6 L1114.2 127.9 L1113.9 139.6 L1121.4 147.0 L1123.8 156.5 L1119.8 166.2 L1110.9 171.4 L1109.5 182.0 L1108.3 193.0 L1107.6 204.0 L1107.3 214.7 L1115.2 222.1 L1115.8 232.1 L1108.6 239.6 L1110.5 248.9 L1120.6 248.4 L1130.5 250.6 L1139.5 255.0 L1147.1 262.0 L1152.1 270.6 L1154.7 280.1 L1154.7 290.4 L1153.0 300.1 L1162.1 306.0 L1171.6 311.9 L1180.1 318.0 L1189.6 325.1 L1198.5 332.3 L1208.7 337.1 L1219.4 339.0 L1228.6 335.1 L1237.7 342.0 L1235.8 351.8 L1225.9 355.6 L1217.5 348.7 L1207.3 347.0 L1196.7 348.9 L1191.5 339.5 L1183.3 332.9 L1174.7 326.2 L1165.9 320.3 L1156.8 314.2 L1147.5 308.7 L1139.7 315.8 L1130.7 320.9 L1121.0 323.1 L1111.1 322.7 L1101.2 319.5 L1093.0 313.6 L1086.5 305.9 L1082.4 296.7 L1072.6 299.6 L1063.6 304.7 L1055.3 310.9 L1058.2 321.2 L1056.3 331.2 L1051.5 340.4 L1042.7 346.0" stroke="#b4b4b4" stroke-width="0.8" fill="none"/><path d="M1101.7 51.1L1112.0 50.8M1102.7 61.8L1112.4 61.8M1103.1 72.9L1113.0 72.4M1104.2 117.6L1114.2 117.6M1104.2 127.9L1114.2 127.9M1103.9 138.9L1113.9 139.6M1100.6 170.6L1110.9 171.4M1099.5 181.5L1109.5 182.0M1098.3 192.3L1108.3 193.0M1097.4 203.6L1107.6 204.0M1097.6 214.7L1107.3 214.7M1098.7 240.2L1108.6 239.6M1100.6 251.8L1110.5 248.9M1079.9 286.5L1082.4 296.7M1068.5 290.6L1072.6 299.6M1058.2 296.8L1063.6 304.7M1048.7 303.1L1055.3 310.9M1153.0 300.1L1147.5 308.7M1162.1 306.0L1156.8 314.2M1171.6 311.9L1165.9 320.3M1180.1 318.0L1174.7 326.2M1189.6 325.1L1183.3 332.9M1208.7 337.1L1207.3 347.0M1219.4 339.0L1217.5 348.7" stroke="#9a9a9a" stroke-width="0.8" fill="none"/><circle cx="1015.5" cy="339.5" r="3.45" fill="#b0da9c" stroke="#8cae7c" stroke-width="0.8"/><circle cx="1010.2" cy="330.8" r="3.45" fill="#b0da9c" stroke="#8cae7c" stroke-width="0.8"/><circle cx="1008.5" cy="320.1" r="3.45" fill="#b1da9c" stroke="#8dae7c" stroke-width="0.8"/><circle cx="1012.3" cy="310.5" r="3.45" fill="#b1da9c" stroke="#8dae7c" stroke-width="0.8"/><circle cx="1019.3" cy="302.8" r="3.45" fill="#b1da9c" stroke="#8dae7c" stroke-width="0.8"/><circle cx="1028.7" cy="299.1" r="3.45" fill="#b2da9c" stroke="#8eae7c" stroke-width="0.8"/><circle cx="1038.6" cy="299.3" r="3.45" fill="#b2db9d" stroke="#8eaf7d" stroke-width="0.8"/><circle cx="1048.7" cy="303.1" r="3.45" fill="#b3db9d" stroke="#8faf7d" stroke-width="0.8"/><circle cx="1058.2" cy="296.8" r="3.45" fill="#b3db9d" stroke="#8faf7d" stroke-width="0.8"/><circle cx="1068.5" cy="290.6" r="3.45" fill="#b3db9d" stroke="#8faf7d" stroke-width="0.8"/><circle cx="1079.9" cy="286.5" r="3.45" fill="#b4db9d" stroke="#90af7d" stroke-width="0.8"/><circle cx="1082.1" cy="276.4" r="3.45" fill="#b4db9d" stroke="#90af7d" stroke-width="0.8"/><circle cx="1086.2" cy="266.8" r="3.45" fill="#b4db9d" stroke="#90af7d" stroke-width="0.8"/><circle cx="1092.4" cy="258.6" r="3.45" fill="#b5db9d" stroke="#90af7d" stroke-width="0.8"/><circle cx="1100.6" cy="251.8" r="3.45" fill="#b5db9d" stroke="#90af7d" stroke-width="0.8"/><circle cx="1098.7" cy="240.2" r="3.45" fill="#b6db9d" stroke="#91af7d" stroke-width="0.8"/><circle cx="1090.6" cy="232.8" r="3.45" fill="#b6db9d" stroke="#91af7d" stroke-width="0.8"/><circle cx="1090.2" cy="222.8" r="3.45" fill="#b6dc9e" stroke="#91b07e" stroke-width="0.8"/><circle cx="1097.6" cy="214.7" r="3.45" fill="#b7dc9e" stroke="#92b07e" stroke-width="0.8"/><circle cx="1097.4" cy="203.6" r="3.45" fill="#b7dc9e" stroke="#92b07e" stroke-width="0.8"/><circle cx="1098.3" cy="192.3" r="3.45" fill="#b7dc9e" stroke="#92b07e" stroke-width="0.8"/><circle cx="1099.5" cy="181.5" r="3.45" fill="#b8dc9e" stroke="#93b07e" stroke-width="0.8"/><circle cx="1100.6" cy="170.6" r="3.45" fill="#b9dc9e" stroke="#94b07e" stroke-width="0.8"/><circle cx="1092.8" cy="163.6" r="3.45" fill="#badc9f" stroke="#94b07f" stroke-width="0.8"/><circle cx="1090.6" cy="153.5" r="3.45" fill="#bcdc9f" stroke="#96b07f" stroke-width="0.8"/><circle cx="1094.5" cy="144.1" r="3.45" fill="#bddda0" stroke="#97b080" stroke-width="0.8"/><circle cx="1103.9" cy="138.9" r="3.45" fill="#bfdda0" stroke="#98b080" stroke-width="0.8"/><circle cx="1104.2" cy="127.9" r="3.45" fill="#c0dda1" stroke="#99b080" stroke-width="0.8"/><circle cx="1104.2" cy="117.6" r="3.45" fill="#c1dda2" stroke="#9ab081" stroke-width="0.8"/><circle cx="1094.3" cy="113.6" r="3.45" fill="#c3dda2" stroke="#9cb081" stroke-width="0.8"/><circle cx="1087.4" cy="105.8" r="3.45" fill="#c4dea3" stroke="#9cb182" stroke-width="0.8"/><circle cx="1085.5" cy="95.5" r="3.45" fill="#c6dea3" stroke="#9eb182" stroke-width="0.8"/><circle cx="1087.6" cy="86.0" r="3.45" fill="#c7dea4" stroke="#9fb183" stroke-width="0.8"/><circle cx="1093.6" cy="77.6" r="3.45" fill="#c9dea5" stroke="#a0b184" stroke-width="0.8"/><circle cx="1103.1" cy="72.9" r="3.45" fill="#cbdfa5" stroke="#a2b284" stroke-width="0.8"/><circle cx="1102.7" cy="61.8" r="3.45" fill="#ccdfa6" stroke="#a3b284" stroke-width="0.8"/><circle cx="1101.7" cy="51.1" r="3.45" fill="#cee0a7" stroke="#a4b385" stroke-width="0.8"/><circle cx="1093.6" cy="44.0" r="3.45" fill="#cfe0a8" stroke="#a5b386" stroke-width="0.8"/><circle cx="1092.8" cy="34.1" r="3.45" fill="#d1e1a9" stroke="#a7b487" stroke-width="0.8"/><circle cx="1100.2" cy="26.5" r="3.45" fill="#d3e1aa" stroke="#a8b488" stroke-width="0.8"/><circle cx="1110.1" cy="26.0" r="3.45" fill="#d4e2ab" stroke="#a9b488" stroke-width="0.8"/><circle cx="1117.9" cy="32.4" r="3.45" fill="#d6e2ac" stroke="#abb489" stroke-width="0.8"/><circle cx="1119.3" cy="42.2" r="3.45" fill="#d7e2ac" stroke="#acb489" stroke-width="0.8"/><circle cx="1112.0" cy="50.8" r="3.45" fill="#d8e1ac" stroke="#acb489" stroke-width="0.8"/><circle cx="1112.4" cy="61.8" r="3.45" fill="#d8e1ac" stroke="#acb489" stroke-width="0.8"/><circle cx="1113.0" cy="72.4" r="3.45" fill="#d9e1ab" stroke="#adb488" stroke-width="0.8"/><circle cx="1122.3" cy="76.9" r="3.45" fill="#dae0ab" stroke="#aeb388" stroke-width="0.8"/><circle cx="1128.9" cy="84.6" r="3.45" fill="#dbe0ab" stroke="#afb388" stroke-width="0.8"/><circle cx="1131.1" cy="94.3" r="3.45" fill="#dbe0ab" stroke="#afb388" stroke-width="0.8"/><circle cx="1129.6" cy="104.3" r="3.45" fill="#dce0ab" stroke="#b0b388" stroke-width="0.8"/><circle cx="1123.3" cy="112.4" r="3.45" fill="#dddfab" stroke="#b0b288" stroke-width="0.8"/><circle cx="1114.2" cy="117.6" r="3.45" fill="#dedfaa" stroke="#b1b288" stroke-width="0.8"/><circle cx="1114.2" cy="127.9" r="3.45" fill="#dedfaa" stroke="#b1b288" stroke-width="0.8"/><circle cx="1113.9" cy="139.6" r="3.45" fill="#dfdeaa" stroke="#b2b188" stroke-width="0.8"/><circle cx="1121.4" cy="147.0" r="3.45" fill="#e0deaa" stroke="#b3b188" stroke-width="0.8"/><circle cx="1123.8" cy="156.5" r="3.45" fill="#e1ddaa" stroke="#b4b088" stroke-width="0.8"/><circle cx="1119.8" cy="166.2" r="3.45" fill="#e1ddaa" stroke="#b4b088" stroke-width="0.8"/><circle cx="1110.9" cy="171.4" r="3.45" fill="#e2dcab" stroke="#b4b088" stroke-width="0.8"/><circle cx="1109.5" cy="182.0" r="3.45" fill="#e3dbab" stroke="#b5af88" stroke-width="0.8"/><circle cx="1108.3" cy="193.0" r="3.45" fill="#e3daab" stroke="#b5ae88" stroke-width="0.8"/><circle cx="1107.6" cy="204.0" r="3.45" fill="#e4daab" stroke="#b6ae88" stroke-width="0.8"/><circle cx="1107.3" cy="214.7" r="3.45" fill="#e5d9ab" stroke="#b7ad88" stroke-width="0.8"/><circle cx="1115.2" cy="222.1" r="3.45" fill="#e5d8ab" stroke="#b7ac88" stroke-width="0.8"/><circle cx="1115.8" cy="232.1" r="3.45" fill="#e6d7ac" stroke="#b8ac89" stroke-width="0.8"/><circle cx="1108.6" cy="239.6" r="3.45" fill="#e6d7ac" stroke="#b8ac89" stroke-width="0.8"/><circle cx="1110.5" cy="248.9" r="3.45" fill="#e7d6ac" stroke="#b8ab89" stroke-width="0.8"/><circle cx="1120.6" cy="248.4" r="3.45" fill="#e8d5ac" stroke="#b9aa89" stroke-width="0.8"/><circle cx="1130.5" cy="250.6" r="3.45" fill="#e8d4ad" stroke="#b9a98a" stroke-width="0.8"/><circle cx="1139.5" cy="255.0" r="3.45" fill="#e8d4ad" stroke="#b9a98a" stroke-width="0.8"/><circle cx="1147.1" cy="262.0" r="3.45" fill="#e9d3ae" stroke="#baa88b" stroke-width="0.8"/><circle cx="1152.1" cy="270.6" r="3.45" fill="#e9d2ae" stroke="#baa88b" stroke-width="0.8"/><circle cx="1154.7" cy="280.1" r="3.45" fill="#ead1ae" stroke="#bba78b" stroke-width="0.8"/><circle cx="1154.7" cy="290.4" r="3.45" fill="#ead1af" stroke="#bba78c" stroke-width="0.8"/><circle cx="1153.0" cy="300.1" r="3.45" fill="#ebd0af" stroke="#bca68c" stroke-width="0.8"/><circle cx="1162.1" cy="306.0" r="3.45" fill="#ebcfaf" stroke="#bca58c" stroke-width="0.8"/><circle cx="1171.6" cy="311.9" r="3.45" fill="#ecceb0" stroke="#bca48c" stroke-width="0.8"/><circle cx="1180.1" cy="318.0" r="3.45" fill="#ecceb0" stroke="#bca48c" stroke-width="0.8"/><circle cx="1189.6" cy="325.1" r="3.45" fill="#edcdb0" stroke="#bda48c" stroke-width="0.8"/><circle cx="1198.5" cy="332.3" r="3.45" fill="#edccb0" stroke="#bda38c" stroke-width="0.8"/><circle cx="1208.7" cy="337.1" r="3.45" fill="#edcbb1" stroke="#bda28d" stroke-width="0.8"/><circle cx="1219.4" cy="339.0" r="3.45" fill="#eecab1" stroke="#bea18d" stroke-width="0.8"/><circle cx="1228.6" cy="335.1" r="3.45" fill="#eec9b1" stroke="#bea08d" stroke-width="0.8"/><circle cx="1237.7" cy="342.0" r="3.45" fill="#eec8b1" stroke="#bea08d" stroke-width="0.8"/><circle cx="1235.8" cy="351.8" r="3.45" fill="#efc7b1" stroke="#bf9f8d" stroke-width="0.8"/><circle cx="1225.9" cy="355.6" r="3.45" fill="#efc6b2" stroke="#bf9e8e" stroke-width="0.8"/><circle cx="1217.5" cy="348.7" r="3.45" fill="#efc5b2" stroke="#bf9d8e" stroke-width="0.8"/><circle cx="1207.3" cy="347.0" r="3.45" fill="#f0c4b2" stroke="#c09c8e" stroke-width="0.8"/><circle cx="1196.7" cy="348.9" r="3.45" fill="#f0c3b2" stroke="#c09c8e" stroke-width="0.8"/><circle cx="1191.5" cy="339.5" r="3.45" fill="#f0c3b2" stroke="#c09c8e" stroke-width="0.8"/><circle cx="1183.3" cy="332.9" r="3.45" fill="#f0c2b2" stroke="#c09b8e" stroke-width="0.8"/><circle cx="1174.7" cy="326.2" r="3.45" fill="#f1c1b2" stroke="#c09a8e" stroke-width="0.8"/><circle cx="1165.9" cy="320.3" r="3.45" fill="#f1c0b2" stroke="#c0998e" stroke-width="0.8"/><circle cx="1156.8" cy="314.2" r="3.45" fill="#f1bfb2" stroke="#c0988e" stroke-width="0.8"/><circle cx="1147.5" cy="308.7" r="3.45" fill="#f1beb2" stroke="#c0988e" stroke-width="0.8"/><circle cx="1139.7" cy="315.8" r="3.45" fill="#f1bdb2" stroke="#c0978e" stroke-width="0.8"/><circle cx="1130.7" cy="320.9" r="3.45" fill="#f2bcb2" stroke="#c1968e" stroke-width="0.8"/><circle cx="1121.0" cy="323.1" r="3.45" fill="#f2bbb2" stroke="#c1958e" stroke-width="0.8"/><circle cx="1111.1" cy="322.7" r="3.45" fill="#f2bab2" stroke="#c1948e" stroke-width="0.8"/><circle cx="1101.2" cy="319.5" r="3.45" fill="#f2b9b2" stroke="#c1948e" stroke-width="0.8"/><circle cx="1093.0" cy="313.6" r="3.45" fill="#f2b8b1" stroke="#c1938d" stroke-width="0.8"/><circle cx="1086.5" cy="305.9" r="3.45" fill="#f2b7b1" stroke="#c1928d" stroke-width="0.8"/><circle cx="1082.4" cy="296.7" r="3.45" fill="#f2b6b1" stroke="#c1918d" stroke-width="0.8"/><circle cx="1072.6" cy="299.6" r="3.45" fill="#f2b6b0" stroke="#c1918c" stroke-width="0.8"/><circle cx="1063.6" cy="304.7" r="3.45" fill="#f2b5b0" stroke="#c1908c" stroke-width="0.8"/><circle cx="1055.3" cy="310.9" r="3.45" fill="#f2b4af" stroke="#c1908c" stroke-width="0.8"/><circle cx="1058.2" cy="321.2" r="3.45" fill="#f2b3af" stroke="#c18f8c" stroke-width="0.8"/><circle cx="1056.3" cy="331.2" r="3.45" fill="#f2b2af" stroke="#c18e8c" stroke-width="0.8"/><circle cx="1051.5" cy="340.4" r="3.45" fill="#f2b1ae" stroke="#c18d8b" stroke-width="0.8"/><circle cx="1042.7" cy="346.0" r="3.45" fill="#f2b0ae" stroke="#c18c8b" stroke-width="0.8"/><g font-size="5.0" font-weight="bold" text-anchor="middle" stroke-width="0.25"><text x="1015.5" y="341.3" fill="#1c2218" stroke="#1c2218">C</text><text x="1010.2" y="332.6" fill="#1c2218" stroke="#1c2218">A</text><text x="1008.5" y="321.9" fill="#1c2218" stroke="#1c2218">A</text><text x="1012.3" y="312.3" fill="#1c2218" stroke="#1c2218">A</text><text x="1019.3" y="304.6" fill="#1c2218" stroke="#1c2218">U</text><text x="1028.7" y="300.9" fill="#1c2218" stroke="#1c2218">G</text><text x="1038.6" y="301.1" fill="#1c2319" stroke="#1c2319">A</text><text x="1048.7" y="304.9" fill="#1c2319" stroke="#1c2319">G</text><text x="1058.2" y="298.6" fill="#1c2319" stroke="#1c2319">U</text><text x="1068.5" y="292.4" fill="#1c2319" stroke="#1c2319">G</text><text x="1079.9" y="288.3" fill="#1c2319" stroke="#1c2319">G</text><text x="1082.1" y="278.2" fill="#1c2319" stroke="#1c2319">A</text><text x="1086.2" y="268.6" fill="#1c2319" stroke="#1c2319">C</text><text x="1092.4" y="260.4" fill="#1c2319" stroke="#1c2319">A</text><text x="1100.6" y="253.6" fill="#1c2319" stroke="#1c2319">G</text><text x="1098.7" y="242.0" fill="#1d2319" stroke="#1d2319">C</text><text x="1090.6" y="234.6" fill="#1d2319" stroke="#1d2319">A</text><text x="1090.2" y="224.6" fill="#1d2319" stroke="#1d2319">U</text><text x="1097.6" y="216.5" fill="#1d2319" stroke="#1d2319">C</text><text x="1097.4" y="205.4" fill="#1d2319" stroke="#1d2319">U</text><text x="1098.3" y="194.1" fill="#1d2319" stroke="#1d2319">G</text><text x="1099.5" y="183.3" fill="#1d2319" stroke="#1d2319">A</text><text x="1100.6" y="172.4" fill="#1d2319" stroke="#1d2319">C</text><text x="1092.8" y="165.4" fill="#1d2319" stroke="#1d2319">A</text><text x="1090.6" y="155.3" fill="#1e2319" stroke="#1e2319">A</text><text x="1094.5" y="145.9" fill="#1e2319" stroke="#1e2319">C</text><text x="1103.9" y="140.7" fill="#1e2319" stroke="#1e2319">G</text><text x="1104.2" y="129.7" fill="#1e2319" stroke="#1e2319">A</text><text x="1104.2" y="119.4" fill="#1e2319" stroke="#1e2319">G</text><text x="1094.3" y="115.4" fill="#1f2319" stroke="#1f2319">A</text><text x="1087.4" y="107.6" fill="#1f231a" stroke="#1f231a">G</text><text x="1085.5" y="97.3" fill="#1f231a" stroke="#1f231a">A</text><text x="1087.6" y="87.8" fill="#1f231a" stroke="#1f231a">G</text><text x="1093.6" y="79.4" fill="#20231a" stroke="#20231a">A</text><text x="1103.1" y="74.7" fill="#20231a" stroke="#20231a">G</text><text x="1102.7" y="63.6" fill="#20231a" stroke="#20231a">C</text><text x="1101.7" y="52.9" fill="#20231a" stroke="#20231a">A</text><text x="1093.6" y="45.8" fill="#21231a" stroke="#21231a">U</text><text x="1092.8" y="35.9" fill="#21241b" stroke="#21241b">G</text><text x="1100.2" y="28.3" fill="#21241b" stroke="#21241b">C</text><text x="1110.1" y="27.8" fill="#21241b" stroke="#21241b">A</text><text x="1117.9" y="34.2" fill="#22241b" stroke="#22241b">U</text><text x="1119.3" y="44.0" fill="#22241b" stroke="#22241b">C</text><text x="1112.0" y="52.6" fill="#22241b" stroke="#22241b">U</text><text x="1112.4" y="63.6" fill="#22241b" stroke="#22241b">G</text><text x="1113.0" y="74.2" fill="#22241b" stroke="#22241b">C</text><text x="1122.3" y="78.7" fill="#22231b" stroke="#22231b">A</text><text x="1128.9" y="86.4" fill="#23231b" stroke="#23231b">C</text><text x="1131.1" y="96.1" fill="#23231b" stroke="#23231b">A</text><text x="1129.6" y="106.1" fill="#23231b" stroke="#23231b">A</text><text x="1123.3" y="114.2" fill="#23231b" stroke="#23231b">G</text><text x="1114.2" y="119.4" fill="#23231b" stroke="#23231b">C</text><text x="1114.2" y="129.7" fill="#23231b" stroke="#23231b">U</text><text x="1113.9" y="141.4" fill="#23231b" stroke="#23231b">C</text><text x="1121.4" y="148.8" fill="#23231b" stroke="#23231b">A</text><text x="1123.8" y="158.3" fill="#24231b" stroke="#24231b">G</text><text x="1119.8" y="168.0" fill="#24231b" stroke="#24231b">A</text><text x="1110.9" y="173.2" fill="#24231b" stroke="#24231b">G</text><text x="1109.5" y="183.8" fill="#24231b" stroke="#24231b">U</text><text x="1108.3" y="194.8" fill="#24221b" stroke="#24221b">C</text><text x="1107.6" y="205.8" fill="#24221b" stroke="#24221b">A</text><text x="1107.3" y="216.5" fill="#24221b" stroke="#24221b">G</text><text x="1115.2" y="223.9" fill="#24221b" stroke="#24221b">C</text><text x="1115.8" y="233.9" fill="#24221b" stroke="#24221b">C</text><text x="1108.6" y="241.4" fill="#24221b" stroke="#24221b">G</text><text x="1110.5" y="250.7" fill="#24221b" stroke="#24221b">C</text><text x="1120.6" y="250.2" fill="#25221b" stroke="#25221b">C</text><text x="1130.5" y="252.4" fill="#25211b" stroke="#25211b">G</text><text x="1139.5" y="256.8" fill="#25211b" stroke="#25211b">C</text><text x="1147.1" y="263.8" fill="#25211b" stroke="#25211b">C</text><text x="1152.1" y="272.4" fill="#25211b" stroke="#25211b">A</text><text x="1154.7" y="281.9" fill="#25211b" stroke="#25211b">G</text><text x="1154.7" y="292.2" fill="#25211c" stroke="#25211c">A</text><text x="1153.0" y="301.9" fill="#25211c" stroke="#25211c">C</text><text x="1162.1" y="307.8" fill="#25211c" stroke="#25211c">G</text><text x="1171.6" y="313.7" fill="#25201c" stroke="#25201c">C</text><text x="1180.1" y="319.8" fill="#25201c" stroke="#25201c">U</text><text x="1189.6" y="326.9" fill="#25201c" stroke="#25201c">U</text><text x="1198.5" y="334.1" fill="#25201c" stroke="#25201c">C</text><text x="1208.7" y="338.9" fill="#25201c" stroke="#25201c">G</text><text x="1219.4" y="340.8" fill="#26201c" stroke="#26201c">C</text><text x="1228.6" y="336.9" fill="#26201c" stroke="#26201c">A</text><text x="1237.7" y="343.8" fill="#26201c" stroke="#26201c">C</text><text x="1235.8" y="353.6" fill="#261f1c" stroke="#261f1c">A</text><text x="1225.9" y="357.4" fill="#261f1c" stroke="#261f1c">A</text><text x="1217.5" y="350.5" fill="#261f1c" stroke="#261f1c">G</text><text x="1207.3" y="348.8" fill="#261f1c" stroke="#261f1c">C</text><text x="1196.7" y="350.7" fill="#261f1c" stroke="#261f1c">A</text><text x="1191.5" y="341.3" fill="#261f1c" stroke="#261f1c">G</text><text x="1183.3" y="334.7" fill="#261f1c" stroke="#261f1c">A</text><text x="1174.7" y="328.0" fill="#261e1c" stroke="#261e1c">G</text><text x="1165.9" y="322.1" fill="#261e1c" stroke="#261e1c">G</text><text x="1156.8" y="316.0" fill="#261e1c" stroke="#261e1c">C</text><text x="1147.5" y="310.5" fill="#261e1c" stroke="#261e1c">G</text><text x="1139.7" y="317.6" fill="#261e1c" stroke="#261e1c">A</text><text x="1130.7" y="322.7" fill="#261e1c" stroke="#261e1c">U</text><text x="1121.0" y="324.9" fill="#261d1c" stroke="#261d1c">A</text><text x="1111.1" y="324.5" fill="#261d1c" stroke="#261d1c">U</text><text x="1101.2" y="321.3" fill="#261d1c" stroke="#261d1c">A</text><text x="1093.0" y="315.4" fill="#261d1c" stroke="#261d1c">A</text><text x="1086.5" y="307.7" fill="#261d1c" stroke="#261d1c">G</text><text x="1082.4" y="298.5" fill="#261d1c" stroke="#261d1c">C</text><text x="1072.6" y="301.4" fill="#261d1c" stroke="#261d1c">C</text><text x="1063.6" y="306.5" fill="#261c1c" stroke="#261c1c">A</text><text x="1055.3" y="312.7" fill="#261c1c" stroke="#261c1c">C</text><text x="1058.2" y="323.0" fill="#261c1c" stroke="#261c1c">G</text><text x="1056.3" y="333.0" fill="#261c1c" stroke="#261c1c">A</text><text x="1051.5" y="342.2" fill="#261c1b" stroke="#261c1b">A</text><text x="1042.7" y="347.8" fill="#261c1b" stroke="#261c1b">C</text></g><path d="M891.9 29.6 L879.6 42.0 L880.7 58.5 L894.0 71.1 L895.1 88.8 L896.7 107.3 L882.0 116.6 L872.2 130.4 L869.1 147.5 L874.6 163.5 L886.0 175.9 L902.6 181.6 L903.5 200.5 L904.1 218.5 L890.1 229.0 L885.1 245.2 L890.6 261.5 L904.8 271.5 L905.1 290.3 L905.1 308.5 L905.1 327.7" stroke="#a8a8a8" stroke-width="1.1" fill="none"/><circle cx="891.9" cy="29.6" r="6.2" fill="#cbe0a6" stroke="#d4e6b8" stroke-width="1.1"/><circle cx="879.6" cy="42.0" r="6.2" fill="#cbe0a6" stroke="#d4e6b8" stroke-width="1.1"/><circle cx="880.7" cy="58.5" r="6.2" fill="#cbe0a6" stroke="#d4e6b8" stroke-width="1.1"/><circle cx="894.0" cy="71.1" r="6.2" fill="#cbe0a6" stroke="#d4e6b8" stroke-width="1.1"/><circle cx="895.1" cy="88.8" r="6.2" fill="#cbe0a6" stroke="#d4e6b8" stroke-width="1.1"/><circle cx="896.7" cy="107.3" r="6.2" fill="#cbe0a6" stroke="#d4e6b8" stroke-width="1.1"/><circle cx="882.0" cy="116.6" r="6.2" fill="#cbe0a6" stroke="#d4e6b8" stroke-width="1.1"/><circle cx="872.2" cy="130.4" r="6.2" fill="#cbe0a6" stroke="#d4e6b8" stroke-width="1.1"/><circle cx="869.1" cy="147.5" r="6.2" fill="#cbe0a6" stroke="#d4e6b8" stroke-width="1.1"/><circle cx="874.6" cy="163.5" r="6.2" fill="#cbe0a6" stroke="#d4e6b8" stroke-width="1.1"/><circle cx="886.0" cy="175.9" r="6.2" fill="#cbe0a6" stroke="#d4e6b8" stroke-width="1.1"/><circle cx="902.6" cy="181.6" r="6.2" fill="#cbe0a6" stroke="#d4e6b8" stroke-width="1.1"/><circle cx="903.5" cy="200.5" r="6.2" fill="#cbe0a6" stroke="#d4e6b8" stroke-width="1.1"/><circle cx="904.1" cy="218.5" r="6.2" fill="#cbe0a6" stroke="#d4e6b8" stroke-width="1.1"/><circle cx="890.1" cy="229.0" r="6.2" fill="#cbe0a6" stroke="#d4e6b8" stroke-width="1.1"/><circle cx="885.1" cy="245.2" r="6.2" fill="#cbe0a6" stroke="#d4e6b8" stroke-width="1.1"/><circle cx="890.6" cy="261.5" r="6.2" fill="#cbe0a6" stroke="#d4e6b8" stroke-width="1.1"/><circle cx="904.8" cy="271.5" r="6.2" fill="#cbe0a6" stroke="#d4e6b8" stroke-width="1.1"/><circle cx="905.1" cy="290.3" r="6.2" fill="#cbe0a6" stroke="#d4e6b8" stroke-width="1.1"/><circle cx="905.1" cy="308.5" r="6.2" fill="#cbe0a6" stroke="#d4e6b8" stroke-width="1.1"/><circle cx="905.1" cy="327.7" r="6.2" fill="#cbe0a6" stroke="#d4e6b8" stroke-width="1.1"/><g font-size="8.6" font-weight="bold" fill="#141a0c" stroke="#141a0c" stroke-width="0.35" text-anchor="middle"><text x="891.9" y="32.7">C</text><text x="879.6" y="45.1">G</text><text x="880.7" y="61.6">U</text><text x="894.0" y="74.2">A</text><text x="895.1" y="91.9">C</text><text x="896.7" y="110.4">G</text><text x="882.0" y="119.7">A</text><text x="872.2" y="133.5">G</text><text x="869.1" y="150.6">A</text><text x="874.6" y="166.6">G</text><text x="886.0" y="179.0">A</text><text x="902.6" y="184.7">G</text><text x="903.5" y="203.6">A</text><text x="904.1" y="221.6">G</text><text x="890.1" y="232.1">C</text><text x="885.1" y="248.3">A</text><text x="890.6" y="264.6">A</text><text x="904.8" y="274.6">C</text><text x="905.1" y="293.4">A</text><text x="905.1" y="311.6">G</text><text x="905.1" y="330.8">U</text></g><g stroke="#262626" stroke-width="1.4" fill="none"><rect x="831.5" y="13.0" width="108.8" height="332.0" stroke-dasharray="5.2 5.4"/><rect x="1078.5" y="18.2" width="60.6" height="191.4" stroke-dasharray="5.2 5.4"/><path d="M940.3 13.0L1078.5 18.2M940.3 345.0L1078.5 209.6" stroke-dasharray="7.2 3.6"/></g><text x="833.71" y="368.30" font-size="14.6" fill="#333" textLength="106.61" lengthAdjust="spacingAndGlyphs">Tra-milR1 (21 nt)</text><defs><filter id="bl1" x="-50%" y="-100%" width="200%" height="300%"><feGaussianBlur stdDeviation="1.3 0.9"/></filter><filter id="bl2" x="-50%" y="-100%" width="200%" height="300%"><feGaussianBlur stdDeviation="2.2 1.6"/></filter><filter id="bl3" x="-50%" y="-100%" width="200%" height="300%"><feGaussianBlur stdDeviation="2.0 1.5"/></filter></defs><linearGradient id="bg1" x1="0" x2="1" y1="0" y2="0"><stop offset="0" stop-color="#dadadc"/><stop offset="0.45" stop-color="#dcdcde"/><stop offset="0.75" stop-color="#e0e0e1"/><stop offset="1" stop-color="#dfdfe0"/></linearGradient><rect x="990.0" y="445.4" width="226.8" height="38.0" fill="url(#bg1)"/><rect x="990.0" y="490.2" width="226.8" height="42.2" fill="#ebebeb"/><g filter="url(#bl1)"><ellipse cx="1042" cy="462.3" rx="10.5" ry="1.6" fill="#939393"/><ellipse cx="1081" cy="462.2" rx="10.5" ry="1.8" fill="#767676"/><ellipse cx="1117" cy="462.0" rx="10.0" ry="1.3" fill="#c2c2c2"/></g><g filter="url(#bl3)"><ellipse cx="1010.4" cy="509.6" rx="13.2" ry="3.9" fill="#000"/><ellipse cx="1047.5" cy="507.8" rx="11.5" ry="4.8" fill="#7a7a7a"/><ellipse cx="1048.2" cy="511.8" rx="12.8" ry="3.5" fill="#1a1a1a"/><path d="M1074 510.5C1077 506.2 1083 506.6 1086 508.6C1090 509.6 1095 508 1096.5 511.6C1094 514.6 1088 512.6 1085 512.2C1080 512 1076 514.4 1074 512.6Z" fill="#000"/><path d="M1113 512C1115 506.6 1126 506.2 1133.5 509.6C1133 512.8 1126 512.6 1120 512.6C1117 513 1114 514.6 1113 513.6Z" fill="#000"/><path d="M1147 512.2C1149 507.6 1160 506.6 1170 508.6C1171.5 511.4 1166 512.6 1158 512.8C1153 513.2 1149 514.6 1147 513.6Z" fill="#000"/><path d="M1186 509.6C1188 505.4 1197 504.4 1203 507C1206 508.2 1209 509 1209 510.2C1203 511.4 1196 510.6 1190 511.2C1187.5 511.6 1186 511 1186 509.6Z" fill="#000"/></g><text x="1006.29" y="436.80" font-size="10.8" fill="#111" stroke="#111" stroke-width="0.22" textLength="6.23" lengthAdjust="spacingAndGlyphs">0</text><text x="1036.32" y="436.80" font-size="10.8" fill="#111" stroke="#111" stroke-width="0.22" textLength="13.30" lengthAdjust="spacingAndGlyphs">12</text><text x="1075.51" y="436.80" font-size="10.8" fill="#111" stroke="#111" stroke-width="0.22" textLength="13.03" lengthAdjust="spacingAndGlyphs">24</text><text x="1112.38" y="436.80" font-size="10.8" fill="#111" stroke="#111" stroke-width="0.22" textLength="13.06" lengthAdjust="spacingAndGlyphs">36</text><text x="1152.15" y="436.80" font-size="10.8" fill="#111" stroke="#111" stroke-width="0.22" textLength="13.09" lengthAdjust="spacingAndGlyphs">48</text><text x="1188.40" y="436.80" font-size="10.8" fill="#111" stroke="#111" stroke-width="0.22" textLength="13.22" lengthAdjust="spacingAndGlyphs">72</text><text x="1208.28" y="436.80" font-size="10.8" fill="#111" stroke="#111" stroke-width="0.22" textLength="16.33" lengthAdjust="spacingAndGlyphs">hpi</text><text x="944.25" y="466.00" font-size="10.8" fill="#111" stroke="#111" stroke-width="0.22" textLength="43.45" lengthAdjust="spacingAndGlyphs">Tra-milR1</text><text x="1220.40" y="463.10" font-size="10.0" fill="#111" stroke="#111" stroke-width="0.22" textLength="22.70" lengthAdjust="spacingAndGlyphs">-21nt</text><text x="972.56" y="511.90" font-size="10.0" font-style="italic" fill="#111" stroke="#111" stroke-width="0.22" textLength="12.59" lengthAdjust="spacingAndGlyphs">U6</text></svg></body></html>
